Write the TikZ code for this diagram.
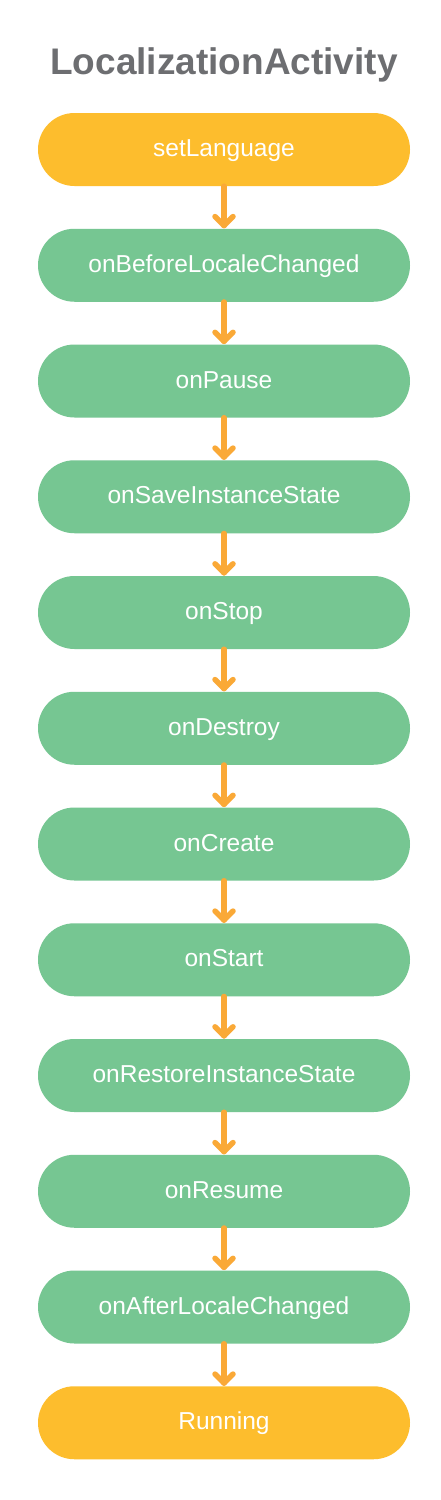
\documentclass[tikz,border=0pt]{standalone}
\usepackage{fontspec}
\setmainfont{Liberation Sans}
\usetikzlibrary{calc}
\definecolor{boxyellow}{HTML}{FDBD2D}
\definecolor{boxgreen}{HTML}{76C692}
\definecolor{arroworange}{HTML}{FAA937}
\definecolor{titlegray}{HTML}{6D6E71}
\tikzset{
  pill/.style={rounded corners=36.5pt, minimum width=372pt, minimum height=73pt,
    inner sep=0pt, text height=18pt, text depth=3.6pt, text=white,
    font=\fontsize{24.5}{28}\selectfont},
  startbox/.style={pill, fill=boxyellow},
  stepbox/.style={pill, fill=boxgreen},
  flow/.style={draw=arroworange, line width=5.5pt, line cap=round, line join=round},
}
\begin{document}
\begin{tikzpicture}[x=1pt,y=-1pt]
\useasboundingbox (0,0) rectangle (441,1500);
\fill[white] (0,0) rectangle (441,1500);
\node[anchor=base, text=titlegray, font=\bfseries\fontsize{37}{42}\selectfont] (title) at (224,74) {LocalizationActivity};
\node[startbox] (n0) at (224,149.5) {setLanguage};
\node[stepbox] (n1) at (224,265.25) {onBeforeLocaleChanged};
\node[stepbox] (n2) at (224,381) {onPause};
\node[stepbox] (n3) at (224,496.75) {onSaveInstanceState};
\node[stepbox] (n4) at (224,612.5) {onStop};
\node[stepbox] (n5) at (224,728.25) {onDestroy};
\node[stepbox] (n6) at (224,844) {onCreate};
\node[stepbox] (n7) at (224,959.75) {onStart};
\node[stepbox] (n8) at (224,1075.5) {onRestoreInstanceState};
\node[stepbox] (n9) at (224,1191.25) {onResume};
\node[stepbox] (n10) at (224,1307) {onAfterLocaleChanged};
\node[startbox] (n11) at (224,1422.75) {Running};
\foreach \a/\b in {n0/n1,n1/n2,n2/n3,n3/n4,n4/n5,n5/n6,n6/n7,n7/n8,n8/n9,n9/n10,n10/n11}{
  \draw[flow] (\a.south) -- ($(\b.north)+(0,-3)$);
  \draw[flow] ($(\b.north)+(-9,-12)$) -- ($(\b.north)+(0,-3)$) -- ($(\b.north)+(9,-12)$);
}
\end{tikzpicture}
\end{document}
